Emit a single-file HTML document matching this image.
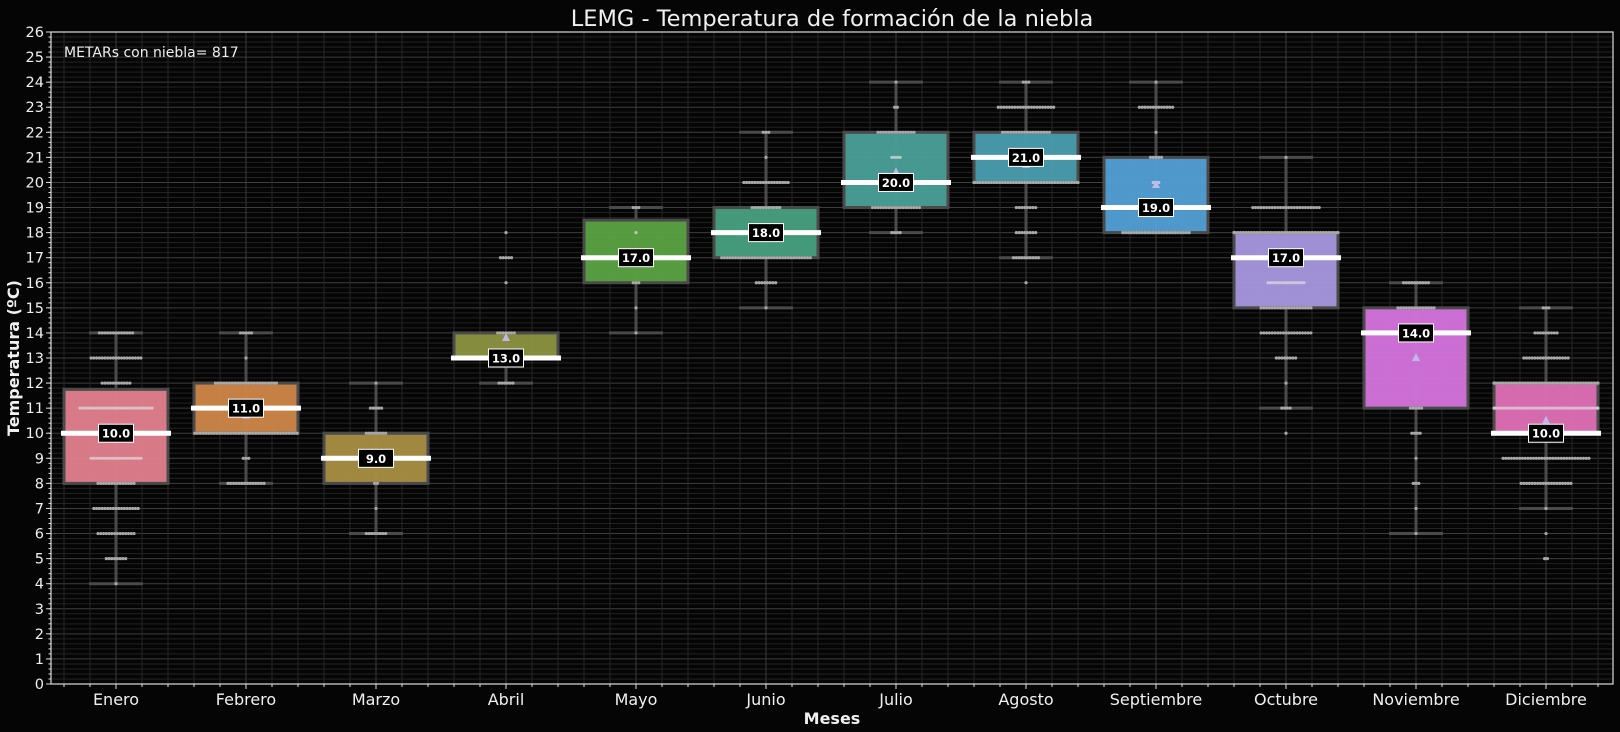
<!DOCTYPE html>
<html><head><meta charset="utf-8"><style>
html,body{margin:0;padding:0;background:#000;}
svg{display:block;font-family:"DejaVu Sans","Liberation Sans",sans-serif;}
</style></head><body>
<svg id="chart" width="1620" height="732" viewBox="0 0 1620 732" xmlns="http://www.w3.org/2000/svg">
<rect x="0" y="0" width="1620" height="732" fill="#050505"/>
<g id="grid"></g>
<g id="boxes"></g>
<g id="axes"></g>
<text x="832" y="26" fill="#f0f0f0" font-size="22.5" text-anchor="middle">LEMG - Temperatura de formación de la niebla</text>
<text x="64" y="57" fill="#eeeeee" font-size="14">METARs con niebla= 817</text>
<text x="832" y="724" fill="#f0f0f0" font-size="16" font-weight="bold" text-anchor="middle">Meses</text>
<text x="19" y="358" fill="#f0f0f0" font-size="16" font-weight="bold" text-anchor="middle" transform="rotate(-90 19 358)">Temperatura (ºC)</text>
</svg>
<script>
const months = ["Enero","Febrero","Marzo","Abril","Mayo","Junio","Julio","Agosto","Septiembre","Octubre","Noviembre","Diciembre"];
const q1 = [8,10,8,13,16,17,19,20,18,15,11,10];
const q3 = [11.75,12,10,14,18.5,19,22,22,21,18,15,12];
const medians = [10,11,9,13,17,18,20,21,19,17,14,10];
const whiskLo = [4,8,6,12,14,15,18,17,18,11,6,7];
const whiskHi = [14,14,12,14,19,22,24,24,24,21,16,15];
const means = [10,10.7,9,13.8,17,18,20.4,20.7,19.9,16.9,13,10.5];
const colors = ["#e4808f","#d0874a","#a98f45","#8d9440","#5ba342","#48a182","#4aa099","#4a9eb0","#52a0d6","#a897e0","#d674de","#e070b6"];
// swarm counts per temperature value: [value, count]
const swarmEnero = [[14,13],[13,19],[12,11],[11,27],[10,30],[9,19],[8,14],[7,17],[6,14],[5,8],[4,1]];
const swarmFebrero = [[14,5],[13,1],[12,23],[11,20],[10,38],[9,3],[8,14]];
const swarmMarzo = [[12,1],[11,5],[10,8],[9,15],[8,2],[7,1],[6,8]];
const swarmAbril = [[18,1],[17,5],[16,1],[14,7],[13,20],[12,6]];
const swarmMayo = [[19,3],[18,1],[17,10],[16,3],[15,1],[14,1]];
const swarmJunio = [[22,3],[21,1],[20,17],[19,11],[18,15],[17,33],[16,8],[15,1]];
const swarmJulio = [[24,1],[23,2],[22,14],[21,4],[20,15],[19,18],[18,4]];
const swarmAgosto = [[24,3],[23,21],[22,18],[21,20],[20,40],[19,8],[18,8],[17,10],[16,1]];
const swarmSeptiembre = [[24,1],[23,13],[22,1],[21,5],[20,3],[19,15],[18,25]];
const swarmOctubre = [[21,1],[19,25],[18,40],[17,20],[16,14],[15,19],[14,19],[13,8],[12,1],[11,4],[10,1]];
const swarmNoviembre = [[16,10],[15,14],[14,10],[13,1],[11,5],[10,4],[9,1],[8,3],[7,1],[6,1]];
const swarmDiciembre = [[15,3],[14,9],[13,17],[12,40],[11,40],[10,20],[9,32],[8,19],[7,1],[6,1],[5,2]];
const swarms = [swarmEnero,swarmFebrero,swarmMarzo,swarmAbril,swarmMayo,swarmJunio,swarmJulio,swarmAgosto,swarmSeptiembre,swarmOctubre,swarmNoviembre,swarmDiciembre];
const yTicks = [0,1,2,3,4,5,6,7,8,9,10,11,12,13,14,15,16,17,18,19,20,21,22,23,24,25,26];

const NS="http://www.w3.org/2000/svg";
const L=51,R=1613,T=32,B=684,STEP=130,X0=116;
const yS=v=>B-(v-0)*(B-T)/26;
const xS=i=>X0+i*STEP;
function mk(tag,attrs,parent){const e=document.createElementNS(NS,tag);for(const k in attrs)e.setAttribute(k,attrs[k]);parent.appendChild(e);return e;}
const grid=document.getElementById('grid'),boxes=document.getElementById('boxes'),axes=document.getElementById('axes');

for(let v=0;v<=26.001;v+=0.2){
  const y=yS(v);
  const major=Math.abs(v-Math.round(v))<1e-6;
  const ln=mk('line',{x1:L,x2:R,y1:y,y2:y,stroke:major?'#3e3e3e':'#222','stroke-width':1},grid);
  
  
}
for(let x=X0-2*26;x<R;x+=26){
  const isMajor=Math.abs(((x-X0)%STEP))<1;
  const ln=mk('line',{x1:x,x2:x,y1:T,y2:B,stroke:isMajor?'#3a3a3a':'#262626','stroke-width':1},grid);
  
  
  const tk=mk('line',{x1:x,x2:x,y1:B,y2:B+(isMajor?5:3),stroke:'#ddd','stroke-width':1},axes);
  
  
}

months.forEach((m,i)=>{
  const cx=xS(i),hw=52,cap=27;
  const g=mk('g',{},boxes);
  
  
  const w1=mk('line',{x1:cx,x2:cx,y1:yS(whiskHi[i]),y2:yS(q3[i]),stroke:'#4a4a4a','stroke-width':3},g);
  
  
  const w2=mk('line',{x1:cx,x2:cx,y1:yS(q1[i]),y2:yS(whiskLo[i]),stroke:'#4a4a4a','stroke-width':3},g);
  
  
  const c1=mk('line',{x1:cx-cap,x2:cx+cap,y1:yS(whiskHi[i]),y2:yS(whiskHi[i]),stroke:'#4a4a4a','stroke-width':3},g);
  
  
  const c2=mk('line',{x1:cx-cap,x2:cx+cap,y1:yS(whiskLo[i]),y2:yS(whiskLo[i]),stroke:'#4a4a4a','stroke-width':3},g);
  
  
  const bx=mk('rect',{x:cx-hw,y:yS(q3[i]),width:2*hw,height:yS(q1[i])-yS(q3[i]),fill:colors[i],'fill-opacity':0.95,stroke:'#4a4a4a','stroke-width':3},g);
  
  
  swarms[i].forEach(([v,n])=>{
    const sp=2.77;
    for(let k=0;k<n;k++){
      let dx=(k-(n-1)/2)*sp;
      if(dx>hw)dx=hw; if(dx<-hw)dx=-hw;
      const inside=v>q1[i]&&v<q3[i];
      const d=mk('circle',{cx:cx+dx,cy:yS(v),r:1.6,fill:inside?'#dddddd':'#a8a8a8','fill-opacity':inside?0.7:1},g);
      
      
    }
  });
  const my=yS(means[i]);
  const tri=mk('polygon',{points:`${cx-4},${my+3} ${cx+4},${my+3} ${cx},${my-5}`,fill:'#c0b8e8'},g);
  
  
  const md=mk('line',{x1:cx-55,x2:cx+55,y1:yS(medians[i]),y2:yS(medians[i]),stroke:'#fff','stroke-width':5},g);
  
  
  const lb=mk('rect',{x:cx-17.5,y:yS(medians[i])-9,width:35,height:18,fill:'#000',stroke:'#fff','stroke-width':1},g);
  
  
  const tx=mk('text',{x:cx,y:yS(medians[i])+4.5,fill:'#fff','font-size':11.5,'font-weight':'bold','text-anchor':'middle'},g);
  tx.textContent=medians[i].toFixed(1);
  
  
  const xl=mk('text',{x:cx,y:705,fill:'#f0f0f0','font-size':16,'text-anchor':'middle'},axes);
  xl.textContent=m;
  
  
});

yTicks.forEach(v=>{
  const y=yS(v);
  const tk=mk('line',{x1:L-5,x2:L,y1:y,y2:y,stroke:'#ddd','stroke-width':1},axes);
  
  
  const t=mk('text',{x:L-7,y:y+5,fill:'#f0f0f0','font-size':14.5,'text-anchor':'end'},axes);
  t.textContent=v;
  
  
});
for(let v=0;v<=26.001;v+=0.2){
  const y=yS(v);
  const tk=mk('line',{x1:L-2.5,x2:L,y1:y,y2:y,stroke:'#ddd','stroke-width':1},axes);
  
  
}
const fr=mk('rect',{x:L,y:T,width:R-L,height:B-T,fill:'none',stroke:'#dddddd','stroke-width':1.2},axes);


</script>
</body></html>
